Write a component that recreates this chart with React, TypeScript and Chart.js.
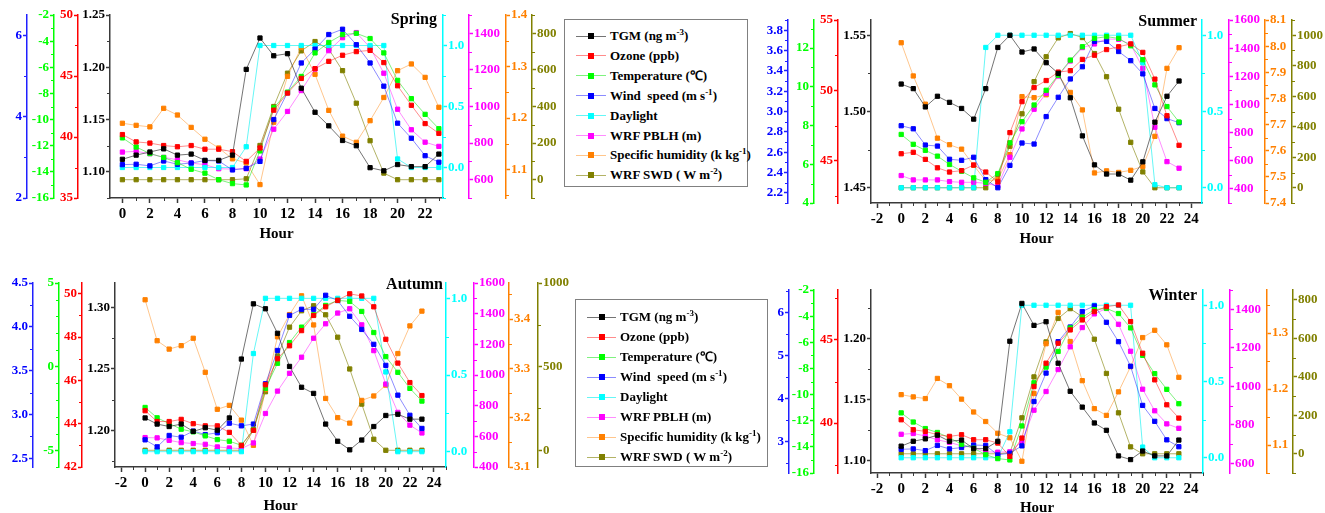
import React, { useEffect, useRef } from 'react';
import { Chart, registerables } from 'chart.js';

Chart.register(...registerables);

const FONT = '"Liberation Serif", "Times New Roman", serif';

// ---------------- categories ----------------
const HOURS = [0, 1, 2, 3, 4, 5, 6, 7, 8, 9, 10, 11, 12, 13, 14, 15, 16, 17, 18, 19, 20, 21, 22, 23];

// ---------------- Spring ----------------
const springTGM = [1.112, 1.116, 1.119, 1.122, 1.116, 1.117, 1.111, 1.111, 1.116, 1.198, 1.228, 1.211, 1.213, 1.180, 1.157, 1.144, 1.130, 1.125, 1.104, 1.101, 1.107, 1.105, 1.105, 1.117];
const springO3 = [40.2, 39.6, 39.5, 39.3, 39.2, 39.3, 39.0, 39.0, 38.8, 38.0, 39.1, 42.2, 43.6, 44.8, 45.6, 46.2, 46.7, 47.0, 47.1, 46.1, 44.2, 42.6, 41.1, 40.3];
const springTemp = [-11.4, -12.1, -12.6, -12.9, -13.3, -13.8, -14.1, -14.6, -14.9, -15.0, -12.4, -9.1, -7.9, -6.7, -4.9, -4.1, -3.5, -3.4, -3.8, -4.9, -7.0, -8.4, -9.6, -10.7];
const springWind = [2.82, 2.83, 2.79, 2.91, 2.83, 2.86, 2.92, 2.91, 2.69, 2.73, 2.90, 3.93, 4.59, 5.32, 5.66, 6.02, 6.15, 5.77, 5.32, 4.75, 3.84, 3.47, 3.04, 2.88];
const springDaylight = [0, 0, 0, 0, 0, 0, 0, 0, 0, 0.17, 1, 1, 1, 1, 1, 1, 1, 1, 1, 1, 0.07, 0, 0, 0];
const springPBLH = [751, 755, 742, 722, 709, 691, 682, 660, 658, 660, 713, 876, 973, 1087, 1205, 1305, 1376, 1404, 1322, 1182, 985, 873, 805, 782];
const springSH = [1.190, 1.186, 1.183, 1.219, 1.206, 1.182, 1.159, 1.142, 1.121, 1.113, 1.071, 1.192, 1.281, 1.337, 1.285, 1.215, 1.165, 1.153, 1.195, 1.240, 1.292, 1.305, 1.279, 1.221];
const springSWD = [0, 0, 0, 0, 0, 0, 0, 0, 0, 5, 187, 400, 582, 704, 755, 713, 596, 418, 213, 36, 0, 0, 0, 0];

// ---------------- Summer ----------------
const summerTGM = [1.518, 1.515, 1.503, 1.510, 1.506, 1.502, 1.495, 1.515, 1.542, 1.550, 1.539, 1.541, 1.532, 1.525, 1.509, 1.484, 1.465, 1.459, 1.459, 1.455, 1.467, 1.493, 1.510, 1.520];
const summerO3 = [45.5, 45.6, 45.1, 44.5, 44.2, 44.3, 44.7, 44.2, 43.5, 47.0, 49.2, 50.2, 50.7, 51.3, 51.4, 52.2, 52.5, 52.9, 53.1, 53.3, 52.7, 50.8, 48.2, 46.1];
const summerTemp = [7.54, 7.03, 6.72, 6.42, 5.99, 5.64, 5.30, 5.07, 5.52, 7.11, 8.20, 9.06, 9.82, 10.60, 11.38, 12.07, 12.50, 12.59, 12.50, 12.12, 11.40, 10.10, 8.98, 8.18];
const summerWind = [2.86, 2.83, 2.67, 2.66, 2.53, 2.52, 2.55, 2.33, 2.25, 2.47, 2.69, 2.68, 2.95, 3.14, 3.32, 3.44, 3.69, 3.69, 3.59, 3.50, 3.37, 3.03, 2.93, 2.89];
const summerDaylight = [0, 0, 0, 0, 0, 0, 0, 0.92, 1, 1, 1, 1, 1, 1, 1, 1, 1, 1, 1, 1, 0.82, 0.02, 0, 0];
const summerPBLH = [495, 464, 464, 464, 452, 447, 447, 440, 421, 625, 826, 966, 1079, 1202, 1309, 1404, 1430, 1465, 1463, 1427, 1257, 838, 594, 547];
const summerSH = [8.013, 7.886, 7.778, 7.648, 7.623, 7.606, 7.544, 7.485, 7.489, 7.585, 7.807, 7.803, 7.814, 7.890, 7.823, 7.756, 7.515, 7.523, 7.517, 7.525, 7.540, 7.655, 7.915, 7.994];
const summerSWD = [0, 0, 0, 0, 0, 0, 0, 0, 87, 272, 485, 696, 859, 983, 1011, 985, 880, 728, 515, 298, 104, 0, 0, 0];

// ---------------- Autumn ----------------
const autumnTGM = [1.210, 1.205, 1.203, 1.205, 1.199, 1.202, 1.200, 1.210, 1.258, 1.303, 1.299, 1.279, 1.252, 1.235, 1.230, 1.205, 1.191, 1.184, 1.192, 1.203, 1.212, 1.213, 1.209, 1.209];
const autumnO3 = [44.6, 44.1, 44.1, 44.2, 44.0, 43.9, 43.9, 43.6, 43.0, 43.7, 45.8, 47.0, 47.6, 48.3, 49.0, 49.4, 49.7, 50.0, 49.9, 49.4, 47.9, 46.8, 45.9, 45.3];
const autumnTemp = [-2.44, -3.06, -3.40, -3.74, -3.90, -4.14, -4.36, -4.46, -4.70, -3.76, -1.30, 0.20, 1.44, 2.36, 3.10, 3.66, 3.96, 3.90, 3.30, 2.04, 0.60, -0.34, -1.30, -2.06];
const autumnWind = [2.71, 2.63, 2.76, 2.74, 2.81, 2.77, 2.79, 2.90, 2.87, 2.89, 3.35, 3.73, 4.13, 4.20, 4.20, 4.36, 4.30, 4.12, 3.97, 3.80, 3.56, 3.22, 2.99, 2.84];
const autumnDaylight = [0, 0, 0, 0, 0, 0, 0, 0, 0, 0.64, 1, 1, 1, 1, 1, 1, 1, 1, 1, 1, 0.52, 0, 0, 0];
const autumnPBLH = [592, 590, 574, 559, 553, 548, 531, 524, 520, 557, 749, 895, 1011, 1116, 1240, 1334, 1404, 1432, 1327, 1159, 941, 756, 673, 622];
const autumnSH = [3.439, 3.356, 3.339, 3.346, 3.361, 3.292, 3.217, 3.225, 3.195, 3.144, 3.257, 3.364, 3.409, 3.447, 3.388, 3.239, 3.200, 3.189, 3.235, 3.244, 3.266, 3.330, 3.386, 3.416];
const autumnSWD = [0, 0, 0, 0, 0, 0, 0, 0, 0, 120, 350, 564, 736, 834, 864, 810, 676, 486, 276, 66, 0, 0, 0, 0];

const winterTGM = [1.112, 1.116, 1.118, 1.121, 1.116, 1.117, 1.110, 1.110, 1.116, 1.198, 1.229, 1.211, 1.214, 1.180, 1.157, 1.144, 1.131, 1.125, 1.104, 1.101, 1.108, 1.104, 1.104, 1.117];
const winterO3 = springO3;
const winterTemp = springTemp;
const winterWind = springWind;
const winterDaylight = springDaylight;
const winterPBLH = springPBLH;
const winterSH = springSH;
const winterSWD = springSWD;

// ---------------- tick labels ----------------
const X_TICKS_SPRING = [0, 2, 4, 6, 8, 10, 12, 14, 16, 18, 20, 22];
const X_TICKS = [-2, 0, 2, 4, 6, 8, 10, 12, 14, 16, 18, 20, 22, 24];

const springTicks = {
  tgm: [1.10, 1.15, 1.20, 1.25], o3: [35, 40, 45, 50], temp: [-16, -14, -12, -10, -8, -6, -4, -2], wind: [2, 4, 6],
  daylight: [0, 0.5, 1.0], pblh: [600, 800, 1000, 1200, 1400], sh: [1.1, 1.2, 1.3, 1.4], swd: [0, 200, 400, 600, 800],
};
const summerTicks = {
  tgm: [1.45, 1.50, 1.55], o3: [45, 50, 55], temp: [4, 6, 8, 10, 12], wind: [2.2, 2.4, 2.6, 2.8, 3.0, 3.2, 3.4, 3.6, 3.8],
  daylight: [0, 0.5, 1.0], pblh: [400, 600, 800, 1000, 1200, 1400, 1600], sh: [7.4, 7.5, 7.6, 7.7, 7.8, 7.9, 8.0, 8.1], swd: [0, 200, 400, 600, 800, 1000],
};
const autumnTicks = {
  tgm: [1.20, 1.25, 1.30], o3: [42, 44, 46, 48, 50], temp: [-5, 0, 5], wind: [2.5, 3.0, 3.5, 4.0, 4.5],
  daylight: [0, 0.5, 1.0], pblh: [400, 600, 800, 1000, 1200, 1400, 1600], sh: [3.1, 3.2, 3.3, 3.4], swd: [0, 500, 1000],
};
const winterTicks = {
  tgm: [1.10, 1.15, 1.20], o3: [40, 45], temp: [-16, -14, -12, -10, -8, -6, -4, -2], wind: [3, 4, 5, 6],
  daylight: [0, 0.5, 1.0], pblh: [600, 800, 1000, 1200, 1400], sh: [1.1, 1.2, 1.3], swd: [0, 200, 400, 600, 800],
};

// ---------------- series styling ----------------
type Key = 'tgm' | 'o3' | 'temp' | 'wind' | 'daylight' | 'pblh' | 'sh' | 'swd';
const SERIES: { key: Key; label: string; color: string; line: string; axis: string; side: 'left' | 'right'; weight: number; dec: number }[] = [
  { key: 'tgm', label: 'TGM (ng m-3)', color: '#000000', line: 'rgba(70,70,70,0.75)', axis: '#3a3a3a', side: 'left', weight: 0, dec: 2 },
  { key: 'o3', label: 'Ozone (ppb)', color: '#FF0000', line: 'rgba(255,0,0,0.45)', axis: '#FF0000', side: 'left', weight: 1, dec: 0 },
  { key: 'temp', label: 'Temperature (℃)', color: '#00FF00', line: 'rgba(0,230,0,0.5)', axis: '#00FF00', side: 'left', weight: 2, dec: 0 },
  { key: 'wind', label: 'Wind speed (m s-1)', color: '#0000FF', line: 'rgba(0,0,255,0.45)', axis: '#2020FF', side: 'left', weight: 3, dec: 0 },
  { key: 'daylight', label: 'Daylight', color: '#00FFFF', line: 'rgba(0,240,240,0.6)', axis: '#00FFFF', side: 'right', weight: 0, dec: 1 },
  { key: 'pblh', label: 'WRF PBLH (m)', color: '#FF00FF', line: 'rgba(255,0,255,0.45)', axis: '#FF00FF', side: 'right', weight: 1, dec: 0 },
  { key: 'sh', label: 'Specific humidity (k kg-1)', color: '#FF8000', line: 'rgba(255,128,0,0.45)', axis: '#FF8000', side: 'right', weight: 2, dec: 1 },
  { key: 'swd', label: 'WRF SWD ( W m-2)', color: '#808000', line: 'rgba(128,128,0,0.6)', axis: '#808000', side: 'right', weight: 3, dec: 0 },
];

type AxisCfg = { min: number; max: number; minor: number; w: number; dec?: number };
type PanelCfg = {
  name: string; left: number; top: number; width: number; height: number; padTop: number; xAxisH: number;
  xMin: number; xMax: number; xTicks: number[]; titleRight: number; titleTop: number;
  data: Record<Key, number[]>; ticks: Record<Key, number[]>; axes: Record<Key, AxisCfg>;
};

const PANELS: PanelCfg[] = [
  {
    name: 'Spring', left: 0, top: 0, width: 560, height: 245, padTop: 15, xAxisH: 47,
    xMin: -0.9, xMax: 23.3, xTicks: X_TICKS_SPRING, titleRight: 437, titleTop: 11,
    data: { tgm: springTGM, o3: springO3, temp: springTemp, wind: springWind, daylight: springDaylight, pblh: springPBLH, sh: springSH, swd: springSWD },
    ticks: springTicks,
    axes: {
      tgm: { min: 1.075, max: 1.25, minor: 0.025, w: 32 },
      o3: { min: 35, max: 50, minor: 2.5, w: 24 },
      temp: { min: -16, max: -2, minor: 1, w: 27 },
      wind: { min: 2, max: 6.5, minor: 1, w: 27 },
      daylight: { min: -0.25, max: 1.25, minor: 0.25, w: 26 },
      pblh: { min: 500, max: 1500, minor: 100, w: 37 },
      sh: { min: 1.045, max: 1.4, minor: 0.05, w: 26 },
      swd: { min: -100, max: 900, minor: 100, w: 28 },
    },
  },
  {
    name: 'Summer', left: 760, top: 0, width: 565, height: 250, padTop: 20, xAxisH: 47,
    xMin: -2.5, xMax: 24.9, xTicks: X_TICKS, titleRight: 1197, titleTop: 13,
    data: { tgm: summerTGM, o3: summerO3, temp: summerTemp, wind: summerWind, daylight: summerDaylight, pblh: summerPBLH, sh: summerSH, swd: summerSWD },
    ticks: summerTicks,
    axes: {
      tgm: { min: 1.44, max: 1.56, minor: 0.025, w: 33 },
      o3: { min: 42, max: 55, minor: 2.5, w: 24 },
      temp: { min: 4, max: 13.45, minor: 1, w: 26 },
      wind: { min: 2.1, max: 3.9, minor: 0.1, w: 28, dec: 1 },
      daylight: { min: -0.1, max: 1.1, minor: 0.25, w: 27 },
      pblh: { min: 300, max: 1600, minor: 100, w: 36 },
      sh: { min: 7.4, max: 8.1, minor: 0.05, w: 27 },
      swd: { min: -100, max: 1100, minor: 100, w: 33 },
    },
  },
  {
    name: 'Autumn', left: 0, top: 250, width: 575, height: 267, padTop: 33, xAxisH: 50,
    xMin: -2.5, xMax: 25, xTicks: X_TICKS, titleRight: 443, titleTop: 276,
    data: { tgm: autumnTGM, o3: autumnO3, temp: autumnTemp, wind: autumnWind, daylight: autumnDaylight, pblh: autumnPBLH, sh: autumnSH, swd: autumnSWD },
    ticks: autumnTicks,
    axes: {
      tgm: { min: 1.17, max: 1.32, minor: 0.025, w: 33 },
      o3: { min: 42, max: 50.5, minor: 1, w: 23 },
      temp: { min: -6, max: 5, minor: 1, w: 26 },
      wind: { min: 2.4, max: 4.5, minor: 0.25, w: 33, dec: 1 },
      daylight: { min: -0.1, max: 1.1, minor: 0.25, w: 28 },
      pblh: { min: 400, max: 1600, minor: 100, w: 35 },
      sh: { min: 3.1, max: 3.473, minor: 0.05, w: 29 },
      swd: { min: -100, max: 1000, minor: 250, w: 37 },
    },
  },
  {
    name: 'Winter', left: 760, top: 250, width: 565, height: 269, padTop: 40, xAxisH: 46,
    xMin: -2.5, xMax: 25, xTicks: X_TICKS, titleRight: 1197, titleTop: 287,
    data: { tgm: winterTGM, o3: winterO3, temp: winterTemp, wind: winterWind, daylight: winterDaylight, pblh: winterPBLH, sh: winterSH, swd: winterSWD },
    ticks: winterTicks,
    axes: {
      tgm: { min: 1.09, max: 1.24, minor: 0.025, w: 33 },
      o3: { min: 37, max: 48, minor: 2.5, w: 24 },
      temp: { min: -16, max: -2, minor: 1, w: 25 },
      wind: { min: 2.27, max: 6.52, minor: 0.5, w: 29 },
      daylight: { min: -0.1, max: 1.1, minor: 0.25, w: 27 },
      pblh: { min: 550, max: 1500, minor: 100, w: 37 },
      sh: { min: 1.05, max: 1.377, minor: 0.05, w: 26 },
      swd: { min: -100, max: 852, minor: 100, w: 32 },
    },
  },
];

function makeMinorPlugin(minors: { id: string; step: number; color: string }[]) {
  return {
    id: 'minorTicks',
    afterDraw(chart: any) {
      const ctx = chart.ctx;
      ctx.save();
      ctx.lineWidth = 1;
      for (const m of minors) {
        const s = chart.scales[m.id];
        if (!s) continue;
        const majors: number[] = s.ticks.map((t: any) => t.value);
        ctx.strokeStyle = m.color;
        ctx.beginPath();
        const start = Math.ceil((s.min - 1e-9) / m.step);
        const end = Math.floor((s.max + 1e-9) / m.step);
        for (let k = start; k <= end; k++) {
          const v = k * m.step;
          if (majors.some((mv) => Math.abs(mv - v) < m.step * 1e-3)) continue;
          const p = s.getPixelForValue(v);
          if (s.isHorizontal()) {
            const x = Math.round(p) + 0.5;
            ctx.moveTo(x, s.top);
            ctx.lineTo(x, s.top + 3);
          } else if (s.position === 'left') {
            const y = Math.round(p) + 0.5;
            ctx.moveTo(s.right, y);
            ctx.lineTo(s.right - 3, y);
          } else {
            const y = Math.round(p) + 0.5;
            ctx.moveTo(s.left, y);
            ctx.lineTo(s.left + 3, y);
          }
        }
        ctx.stroke();
      }
      ctx.restore();
    },
  };
}

function Panel({ p }: { p: PanelCfg }) {
  const ref = useRef<HTMLCanvasElement>(null);
  useEffect(() => {
    if (!ref.current) return;
    const tickFont = { family: FONT, size: 13, weight: 'bold' as const };
    const scales: any = {
      x: {
        type: 'linear',
        position: 'bottom',
        min: p.xMin,
        max: p.xMax,
        afterBuildTicks: (s: any) => { s.ticks = p.xTicks.map((v) => ({ value: v })); },
        afterFit: (s: any) => { s.height = p.xAxisH; },
        ticks: { autoSkip: false, maxRotation: 0, color: '#000', padding: 2, font: { family: FONT, size: 15, weight: 'bold' }, callback: (v: any) => String(v) },
        grid: { display: true, drawOnChartArea: false, drawTicks: true, tickLength: 5, tickColor: '#3a3a3a', tickWidth: 1.5 },
        border: { display: true, color: '#3a3a3a', width: 1.5 },
        title: { display: true, text: 'Hour', color: '#000', font: { family: FONT, size: 15, weight: 'bold' }, padding: { top: 0, bottom: 2 } },
      },
    };
    const minors: { id: string; step: number; color: string }[] = [{ id: 'x', step: 1, color: '#3a3a3a' }];
    for (const s of SERIES) {
      const a = p.axes[s.key];
      const dec = a.dec !== undefined ? a.dec : s.dec;
      const tk = p.ticks[s.key];
      scales[s.key] = {
        type: 'linear',
        position: s.side,
        weight: s.weight,
        min: a.min,
        max: a.max,
        afterBuildTicks: (sc: any) => { sc.ticks = tk.map((v) => ({ value: v })); },
        afterFit: (sc: any) => { sc.width = a.w; },
        ticks: { autoSkip: false, color: s.key === 'tgm' ? '#000' : s.color, padding: 1, font: tickFont, callback: (v: any) => Number(v).toFixed(dec) },
        grid: { display: true, drawOnChartArea: false, drawTicks: true, tickLength: 4, tickColor: s.axis, tickWidth: 1.5 },
        border: { display: true, color: s.axis, width: 1.5 },
      };
      minors.push({ id: s.key, step: a.minor, color: s.axis });
    }
    const datasets = SERIES.map((s) => ({
      label: s.label,
      data: HOURS.map((h, i) => ({ x: h, y: p.data[s.key][i] })),
      xAxisID: 'x',
      yAxisID: s.key,
      borderColor: s.line,
      backgroundColor: s.color,
      borderWidth: 1,
      pointStyle: 'rect',
      pointRadius: 3,
      pointHoverRadius: 3,
      pointBackgroundColor: s.color,
      pointBorderColor: s.color,
      pointBorderWidth: 1,
      tension: 0,
      fill: false,
      clip: false as any,
    }));
    const chart = new Chart(ref.current, {
      type: 'line',
      data: { datasets },
      options: {
        responsive: false,
        maintainAspectRatio: false,
        animation: false,
        devicePixelRatio: 1,
        events: [],
        layout: { padding: { top: p.padTop, left: 0, right: 0, bottom: 0 } },
        plugins: { legend: { display: false }, tooltip: { enabled: false }, title: { display: false } },
        scales,
      } as any,
      plugins: [makeMinorPlugin(minors)],
    });
    return () => chart.destroy();
  }, [p]);
  return (
    <canvas
      ref={ref}
      width={p.width}
      height={p.height}
      style={{ position: 'absolute', left: p.left, top: p.top, width: p.width, height: p.height }}
    />
  );
}

const SUP: React.CSSProperties = { fontSize: 9, position: 'relative', top: -5 };
const LEGEND_LABELS: React.ReactNode[] = [
  <>TGM (ng m<span style={SUP}>-3</span>)</>,
  <>Ozone (ppb)</>,
  <>Temperature (℃)</>,
  <>Wind&nbsp; speed (m s<span style={SUP}>-1</span>)</>,
  <>Daylight</>,
  <>WRF PBLH (m)</>,
  <>Specific humidity (k kg<span style={SUP}>-1</span>)</>,
  <>WRF SWD ( W m<span style={SUP}>-2</span>)</>,
];

function Legend({ left, top, width, height, rowTop, rowStep, lineX, lineW, textX }: { left: number; top: number; width: number; height: number; rowTop: number; rowStep: number; lineX: number; lineW: number; textX: number }) {
  return (
    <div style={{ position: 'absolute', left, top, width, height, border: '1px solid #808080', boxSizing: 'border-box', background: 'transparent' }}>
      {SERIES.map((s, i) => {
        const cy = rowTop + i * rowStep;
        return (
          <div key={s.key}>
            <div style={{ position: 'absolute', left: lineX, top: cy - 0.5, width: lineW, height: 1, background: s.line }} />
            <div style={{ position: 'absolute', left: lineX + lineW / 2 - 3, top: cy - 3, width: 6, height: 6, background: s.color }} />
            <div style={{ position: 'absolute', left: textX, top: cy - 9, height: 18, lineHeight: '18px', whiteSpace: 'nowrap', fontFamily: FONT, fontWeight: 'bold', fontSize: 13, color: '#000' }}>
              {LEGEND_LABELS[i]}
            </div>
          </div>
        );
      })}
    </div>
  );
}

export default function App() {
  return (
    <div style={{ position: 'absolute', left: 0, top: 0, width: 1325, height: 513, overflow: 'hidden', background: '#ffffff' }}>
      {PANELS.map((p) => (
        <Panel key={p.name} p={p} />
      ))}
      {PANELS.map((p) => (
        <div
          key={p.name + '-title'}
          style={{ position: 'absolute', left: p.titleRight - 200, top: p.titleTop, width: 200, textAlign: 'right', fontFamily: FONT, fontWeight: 'bold', fontSize: 16, lineHeight: '16px', color: '#000' }}
        >
          {p.name}
        </div>
      ))}
      <Legend left={564} top={19} width={184} height={168} rowTop={16} rowStep={19.9} lineX={11} lineW={30} textX={45} />
      <Legend left={575} top={299} width={193} height={168} rowTop={17} rowStep={20} lineX={11} lineW={29} textX={44} />
    </div>
  );
}
